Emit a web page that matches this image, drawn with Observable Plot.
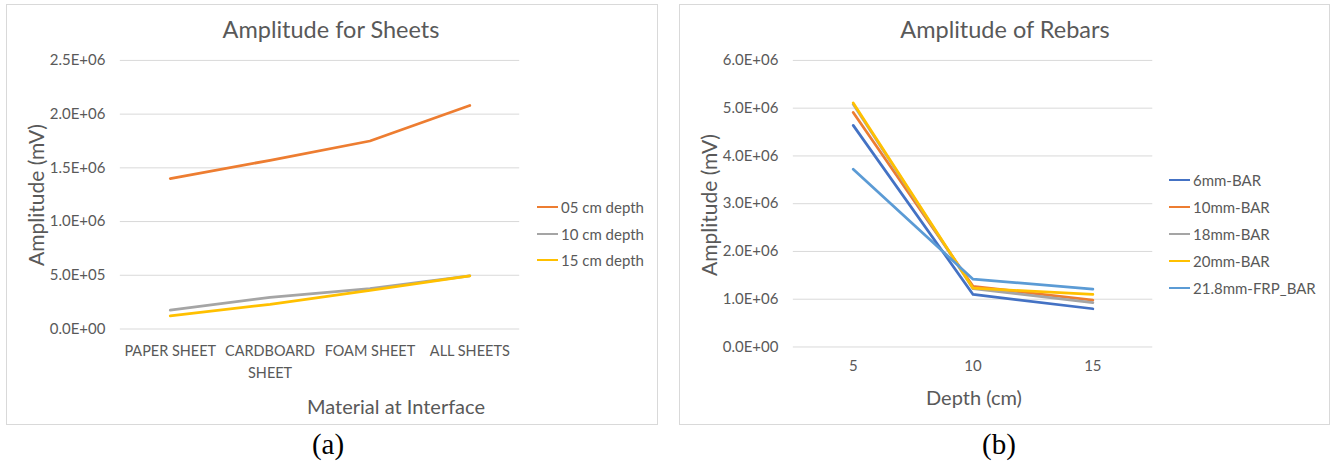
<!DOCTYPE html>
<html>
<head>
<meta charset="utf-8">
<script src="https://cdn.jsdelivr.net/npm/d3@7"></script>
<script src="https://cdn.jsdelivr.net/npm/@observablehq/plot@0.6"></script>
<style>
  html, body { margin: 0; padding: 0; background: #fff; }
  #page { position: relative; width: 1330px; height: 461px; overflow: hidden; font-family: Lato, "Open Sans", sans-serif; color: #595959; }
  .panel { position: absolute; box-sizing: border-box; border: 1px solid #d9d9d9; background: #fff; }
  .panel svg { position: absolute; left: -1px; top: -1px; }
  .abs { position: absolute; white-space: nowrap; }
  .title { font-size: 23.5px; transform: translate(-50%, -50%); }
  .axis-title { font-size: 20px; transform: translate(-50%, -50%); }
  .y-title { font-size: 21px; transform: translate(-50%, -50%) rotate(-90deg); }
  .legend-item { position: absolute; font-size: 15px; display: flex; align-items: center; }
  .legend-item .swatch { width: 21px; height: 0; border-top: 2.75px solid; margin-right: 3px; }
  .caption { font-family: "Liberation Serif", "DejaVu Serif", serif; font-size: 29px; color: #000; transform: translate(-50%, -50%); }
</style>
</head>
<body>
<div id="page"></div>
<script>
// (a) Amplitude for each interface sheet material at three depths
const sheetCategories = ["PAPER SHEET", "CARDBOARD SHEET", "FOAM SHEET", "ALL SHEETS"];
const sheetTickLabels = ["PAPER SHEET", "CARDBOARD\nSHEET", "FOAM SHEET", "ALL SHEETS"];
const sheetSeries = ["05 cm depth", "10 cm depth", "15 cm depth"];
const depth05 = [1.40e6, 1.57e6, 1.75e6, 2.08e6];
const depth10 = [1.75e5, 2.95e5, 3.75e5, 4.95e5];
const depth15 = [1.23e5, 2.30e5, 3.60e5, 4.95e5];
const sheetTicks = [0, 5e5, 1e6, 1.5e6, 2e6, 2.5e6];

// (b) Amplitude of rebars against depth
const depths = [5, 10, 15];
const rebarSeries = ["6mm-BAR", "10mm-BAR", "18mm-BAR", "20mm-BAR", "21.8mm-FRP_BAR"];
const bar6 = [4.64e6, 1.10e6, 0.80e6];
const bar10 = [4.91e6, 1.27e6, 0.98e6];
const bar18 = [5.08e6, 1.22e6, 0.93e6];
const bar20 = [5.11e6, 1.23e6, 1.10e6];
const barFrp = [3.72e6, 1.42e6, 1.21e6];
const rebarTicks = [0, 1e6, 2e6, 3e6, 4e6, 5e6, 6e6];

const sheetColors = ["#ED7D31", "#A5A5A5", "#FFC000"];
const rebarColors = ["#4472C4", "#ED7D31", "#A5A5A5", "#FFC000", "#5B9BD5"];

// Excel-style scientific labels: 2.5E+06
function sci(d) {
  const [m, e] = d.toExponential(1).split("e");
  return m + "E" + e[0] + e.slice(1).padStart(2, "0");
}

const page = document.getElementById("page");
function add(parent, cls, text, left, top) {
  const el = document.createElement("div");
  el.className = "abs " + cls;
  el.textContent = text;
  el.style.left = left + "px";
  el.style.top = top + "px";
  parent.appendChild(el);
  return el;
}
function panel(left, top, width, height) {
  const el = document.createElement("div");
  el.className = "panel";
  Object.assign(el.style, {left: left + "px", top: top + "px", width: width + "px", height: height + "px"});
  page.appendChild(el);
  return el;
}
function legend(parent, names, colors, left, top, step) {
  names.forEach((n, i) => {
    const item = document.createElement("div");
    item.className = "legend-item";
    item.style.left = left + "px";
    item.style.top = (top + i * step - 10) + "px";
    item.style.height = "20px";
    const sw = document.createElement("span");
    sw.className = "swatch";
    sw.style.borderTopColor = colors[i];
    const tx = document.createElement("span");
    tx.textContent = n;
    item.appendChild(sw);
    item.appendChild(tx);
    parent.appendChild(item);
  });
}

const axisStyle = {fontFamily: "Lato, 'Open Sans', sans-serif", fontSize: "15px", color: "#595959", background: "transparent"};

// ---- Panel (a)
const sheetRows = [];
[depth05, depth10, depth15].forEach((vals, s) =>
  vals.forEach((v, i) => sheetRows.push({series: sheetSeries[s], material: sheetCategories[i], value: v})));

const plotA = Plot.plot({
  width: 651, height: 420,
  marginLeft: 114, marginRight: 137, marginTop: 56, marginBottom: 95,
  style: axisStyle,
  x: {type: "point", domain: sheetCategories, padding: 0.5, label: null},
  y: {domain: [0, 2.5e6], label: null},
  color: {domain: sheetSeries, range: sheetColors},
  marks: [
    Plot.ruleY(sheetTicks, {stroke: "#d9d9d9", strokeWidth: 1}),
    Plot.axisY(sheetTicks, {tickSize: 0, tickPadding: 15, tickFormat: sci, label: null, fill: "#595959"}),
    Plot.axisX(sheetCategories, {tickSize: 0, tickPadding: 12, lineHeight: 1.5, fontSize: 14.5,
      tickFormat: (d) => sheetTickLabels[sheetCategories.indexOf(d)], label: null, fill: "#595959"}),
    Plot.line(sheetRows, {x: "material", y: "value", z: "series", stroke: "series",
      strokeWidth: 2.75, strokeLinecap: "round", strokeLinejoin: "round"})
  ]
});
const pa = panel(6, 4, 652, 421);
pa.appendChild(plotA);
add(pa, "title", "Amplitude for Sheets", 324, 24);
add(pa, "axis-title", "Material at Interface", 389, 401);
add(pa, "y-title", "Amplitude (mV)", 28, 190);
legend(pa, sheetSeries, sheetColors, 530, 202, 26.5);
add(page, "caption", "(a)", 328, 444);

// ---- Panel (b)
const rebarRows = [];
[bar6, bar10, bar18, bar20, barFrp].forEach((vals, s) =>
  vals.forEach((v, i) => rebarRows.push({series: rebarSeries[s], depth: depths[i], value: v})));

const plotB = Plot.plot({
  width: 650, height: 420,
  marginLeft: 114, marginRight: 176, marginTop: 56, marginBottom: 77,
  style: axisStyle,
  x: {type: "point", domain: depths, padding: 0.5, label: null},
  y: {domain: [0, 6e6], label: null},
  color: {domain: rebarSeries, range: rebarColors},
  marks: [
    Plot.ruleY(rebarTicks, {stroke: "#d9d9d9", strokeWidth: 1}),
    Plot.axisY(rebarTicks, {tickSize: 0, tickPadding: 15, tickFormat: sci, label: null, fill: "#595959"}),
    Plot.axisX(depths, {tickSize: 0, tickPadding: 13, label: null, fill: "#595959"}),
    Plot.line(rebarRows, {x: "depth", y: "value", z: "series", stroke: "series",
      strokeWidth: 2.75, strokeLinecap: "round", strokeLinejoin: "round"})
  ]
});
const pb = panel(679, 4, 651, 421);
pb.appendChild(plotB);
add(pb, "title", "Amplitude of Rebars", 325, 24);
add(pb, "axis-title", "Depth (cm)", 294, 392);
add(pb, "y-title", "Amplitude (mV)", 28, 200);
legend(pb, rebarSeries, rebarColors, 489, 175, 26.9);
add(page, "caption", "(b)", 999, 444);
</script>
</body>
</html>
